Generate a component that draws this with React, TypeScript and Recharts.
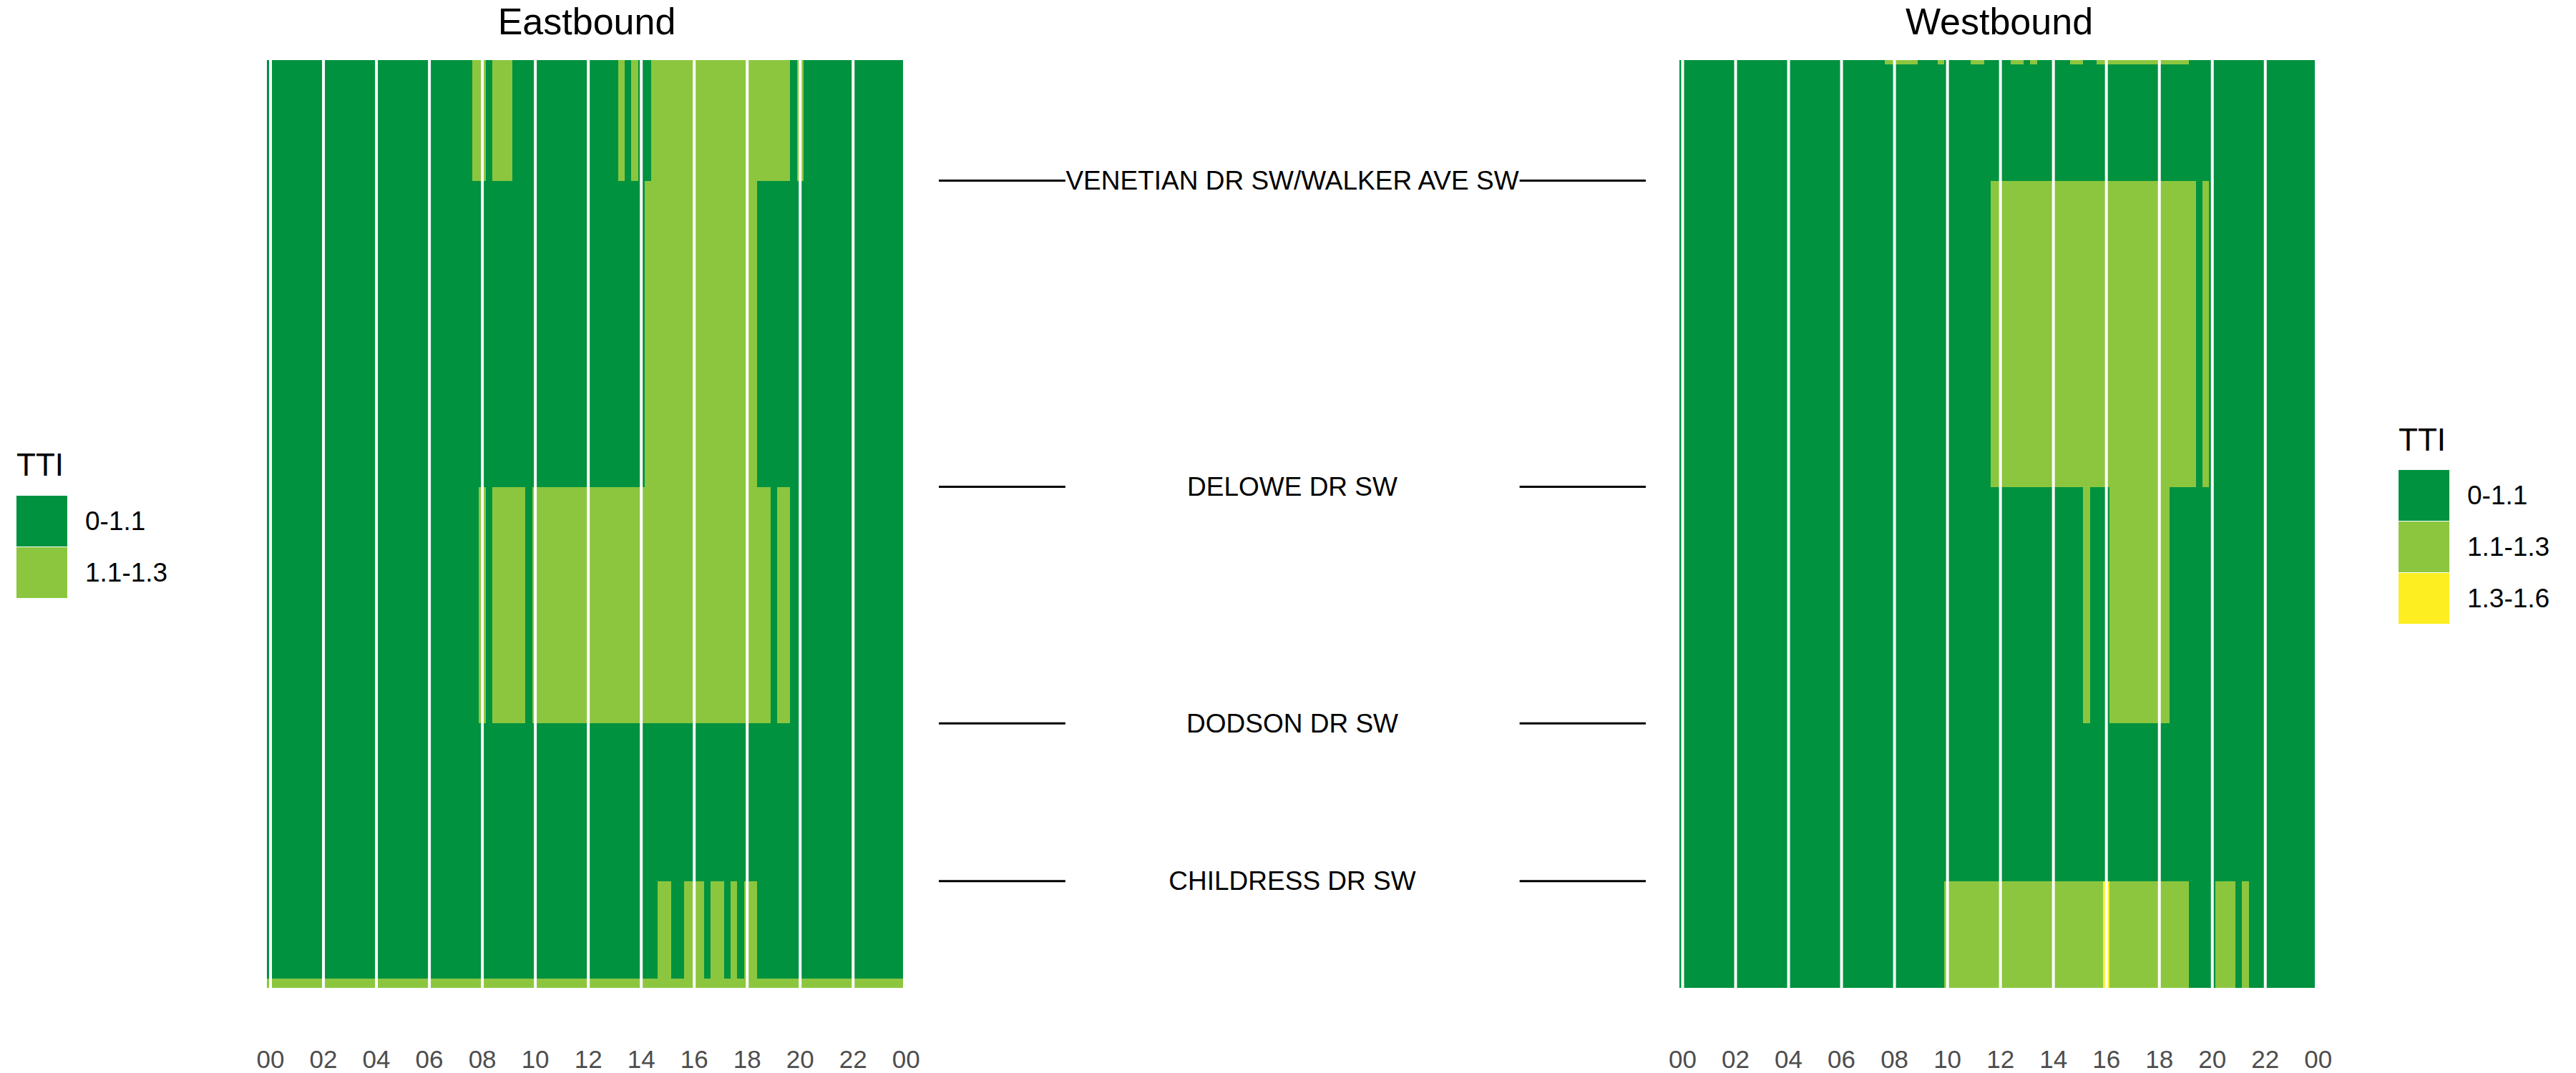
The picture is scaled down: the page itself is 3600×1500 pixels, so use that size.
import { ComposedChart, XAxis, YAxis, ReferenceArea, ReferenceLine, Scatter } from 'recharts'

const FONT = '"Liberation Sans", Arial, Helvetica, sans-serif'

// x axis: hour of day, one tile per 15 min slot
const tickHours = [0, 2, 4, 6, 8, 10, 12, 14, 16, 18, 20, 22, 24]
const gapHours = [0, 2, 4, 6, 8, 10, 12, 14, 16, 18, 20, 22]
const firstSlot = 0
const lastSlot = 23.75
const SLOT = 0.25

const ttiLabels = ['0-1.1', '1.1-1.3', '1.3-1.6']
const ttiColors = ['#00923F', '#8CC63F', '#FCEE21']

// cross streets and their mile marks along the corridor
const roadNames = ['CHILDRESS DR SW', 'DODSON DR SW', 'DELOWE DR SW', 'VENETIAN DR SW/WALKER AVE SW']
const roadMiles = [0.23, 0.57, 1.08, 1.74]

// segment boundaries (miles), bottom to top
const eastBounds = [0, 0.02, 0.23, 0.57, 1.08, 1.74, 2.0]
const westBounds = [0, 0.23, 0.57, 1.08, 1.74, 1.99, 2.0]

// [segment, first slot, last slot, TTI class]; everything else is 0-1.1
const eastRuns = [
  [0, 0, 23.75, 1],
  [1, 14.75, 15.0, 1],
  [1, 15.75, 16.25, 1],
  [1, 16.75, 17.0, 1],
  [1, 17.5, 17.5, 1],
  [1, 18.0, 18.25, 1],
  [3, 8.0, 8.0, 1],
  [3, 8.5, 9.5, 1],
  [3, 10.0, 18.75, 1],
  [3, 19.25, 19.5, 1],
  [4, 14.25, 18.25, 1],
  [5, 7.75, 8.0, 1],
  [5, 8.5, 9.0, 1],
  [5, 13.25, 13.25, 1],
  [5, 13.75, 13.75, 1],
  [5, 14.5, 19.5, 1],
  [5, 20.0, 20.0, 1],
]

const westRuns = [
  [0, 10.0, 15.75, 1],
  [0, 16.0, 16.0, 2],
  [0, 16.25, 19.0, 1],
  [0, 20.25, 20.75, 1],
  [0, 21.25, 21.25, 1],
  [2, 15.25, 15.25, 1],
  [2, 16.25, 18.25, 1],
  [3, 11.75, 19.25, 1],
  [3, 19.75, 19.75, 1],
  [5, 7.75, 8.75, 1],
  [5, 9.75, 9.75, 1],
  [5, 11.0, 11.25, 1],
  [5, 12.5, 12.75, 1],
  [5, 13.25, 13.25, 1],
  [5, 14.75, 15.0, 1],
  [5, 15.75, 19.0, 1],
]

const crispRect = (p: any) => (
  <rect x={p.x} y={p.y} width={p.width} height={p.height} fill={p.fill} shapeRendering="crispEdges" />
)

function buildCells(bounds: number[], runs: number[][]) {
  const cells: { x1: number; x2: number; y1: number; y2: number; cat: number }[] = []
  for (let s = 0; s < bounds.length - 1; s++) {
    cells.push({ x1: firstSlot - SLOT / 2, x2: lastSlot + SLOT / 2, y1: bounds[s], y2: bounds[s + 1], cat: 0 })
  }
  runs.forEach(([s, a, b, c]) => {
    cells.push({ x1: a - SLOT / 2, x2: b + SLOT / 2, y1: bounds[s], y2: bounds[s + 1], cat: c })
  })
  return cells
}

function Heatmap({ bounds, runs, left, width, marginLeft }: { bounds: number[]; runs: number[][]; left: number; width: number; marginLeft: number }) {
  const cells = buildCells(bounds, runs)
  const anchors = cells.map((c) => ({ x: (c.x1 + c.x2) / 2, y: (c.y1 + c.y2) / 2 }))
  const plotW = 897.5
  return (
    <div style={{ position: 'absolute', left, top: 0 }}>
      <ComposedChart
        width={width}
        height={1500}
        data={anchors}
        margin={{ top: 84, bottom: 9, left: marginLeft, right: width - marginLeft - plotW }}
      >
        <XAxis
          type="number"
          dataKey="x"
          domain={[-0.125, 24.125]}
          allowDataOverflow
          ticks={tickHours}
          interval={0}
          tickFormatter={(h: number) => String(h % 24).padStart(2, '0')}
          axisLine={false}
          tickLine={false}
          tickSize={0}
          tickMargin={87}
          height={110}
          tick={{ fill: '#4D4D4D', fontSize: 35, fontFamily: FONT }}
        />
        <YAxis type="number" dataKey="y" domain={[0, 2]} allowDataOverflow hide />
        {cells.map((c, i) => (
          <ReferenceArea
            key={i}
            x1={c.x1}
            x2={c.x2}
            y1={c.y1}
            y2={c.y2}
            fill={ttiColors[c.cat]}
            fillOpacity={1}
            stroke="none"
            shape={crispRect}
          />
        ))}
        {gapHours.map((h) => (
          <ReferenceLine key={'g' + h} x={h} stroke="#FFFFFF" strokeWidth={4} />
        ))}
        <Scatter data={anchors} isAnimationActive={false} shape={() => <g />} />
      </ComposedChart>
    </div>
  )
}

function RoadLabels() {
  const roads = roadNames.map((name, i) => ({ x: 0.5, y: roadMiles[i], name }))
  return (
    <div style={{ position: 'absolute', left: 1300, top: 0 }}>
      <ComposedChart width={1020} height={1500} margin={{ top: 84, bottom: 119, left: 12, right: 20 }}>
        <XAxis type="number" dataKey="x" domain={[0, 1]} allowDataOverflow hide />
        <YAxis type="number" dataKey="y" domain={[0, 2]} allowDataOverflow hide />
        {roadMiles.map((m) => (
          <ReferenceLine key={'l' + m} segment={[{ x: 0, y: m }, { x: 0.179, y: m }]} stroke="#000" strokeWidth={3} />
        ))}
        {roadMiles.map((m) => (
          <ReferenceLine key={'r' + m} segment={[{ x: 0.8215, y: m }, { x: 1, y: m }]} stroke="#000" strokeWidth={3} />
        ))}
        <Scatter
          data={roads}
          isAnimationActive={false}
          shape={(p: any) => (
            <text
              x={p.cx}
              y={p.cy}
              textAnchor="middle"
              dominantBaseline="central"
              fontSize={37}
              fontFamily={FONT}
              fill="#000"
            >
              {p.payload.name}
            </text>
          )}
        />
      </ComposedChart>
    </div>
  )
}

function TtiLegend({ left, titleTop, keyTop, count }: { left: number; titleTop: number; keyTop: number; count: number }) {
  return (
    <>
      <div style={{ position: 'absolute', left, top: titleTop, fontSize: 44, lineHeight: '44px', fontFamily: FONT, color: '#000' }}>
        TTI
      </div>
      {ttiLabels.slice(0, count).map((lab, i) => (
        <div key={lab}>
          <div
            style={{
              position: 'absolute',
              left,
              top: keyTop + i * 72,
              width: 71,
              height: 71,
              background: ttiColors[i],
            }}
          />
          <div
            style={{
              position: 'absolute',
              left: left + 96,
              top: keyTop + i * 72,
              height: 71,
              display: 'flex',
              alignItems: 'center',
              fontSize: 37,
              lineHeight: '37px',
              fontFamily: FONT,
              color: '#000',
              whiteSpace: 'nowrap',
            }}
          >
            {lab}
          </div>
        </div>
      ))}
    </>
  )
}

function Title({ text, center }: { text: string; center: number }) {
  return (
    <div
      style={{
        position: 'absolute',
        left: center - 300,
        width: 600,
        top: 0,
        textAlign: 'center',
        fontSize: 52,
        lineHeight: 'normal',
        fontFamily: FONT,
        color: '#000',
      }}
    >
      {text}
    </div>
  )
}

export default function App() {
  return (
    <div style={{ position: 'absolute', left: 0, top: 0, width: 3600, height: 1500, background: '#fff', overflow: 'hidden' }}>
      <Heatmap bounds={eastBounds} runs={eastRuns} left={0} width={1300} marginLeft={373.4} />
      <Heatmap bounds={westBounds} runs={westRuns} left={2320} width={1000} marginLeft={26.9} />
      <RoadLabels />
      <Title text="Eastbound" center={820} />
      <Title text="Westbound" center={2794} />
      <TtiLegend left={23} titleTop={628} keyTop={693} count={2} />
      <TtiLegend left={3352} titleTop={593} keyTop={657} count={3} />
    </div>
  )
}
